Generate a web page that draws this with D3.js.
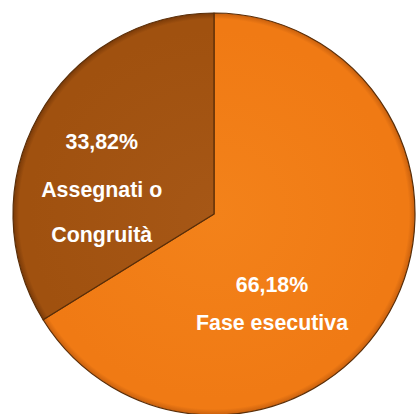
<!DOCTYPE html>
<html>
<head>
<meta charset="utf-8">
<script src="https://cdn.jsdelivr.net/npm/d3@7"></script>
<style>
  html, body { margin: 0; padding: 0; background: #fff; }
  svg { display: block; }
  .lbl { font-family: "Liberation Sans", Arial, sans-serif; font-weight: bold; fill: #fff; }
</style>
</head>
<body>
<div id="chart"></div>
<script>
// slice data, clockwise from 12 o'clock
const categories = ["Fase esecutiva", "Assegnati o Congruità"];
const values = [66.18, 33.82];
const percentLabels = ["66,18%", "33,82%"];
const nameLines = [["Fase esecutiva"], ["Assegnati o", "Congruità"]];

let width = 417, height = 414,
    cx = 214, cy = 214, radius = 201;

const svg = d3.select("#chart").append("svg")
    .attr("width", width)
    .attr("height", height);

const colors = [
    { base: "#f07a14", light: "#f3821a", dark: "#c8600e" },
    { base: "#a0510f", light: "#a65716", dark: "#7a3a08" }
];

// radial gradients for a bit of depth (group coords, centre at 0,0)
const defs = svg.append("defs");
colors.forEach((c, i) => {
    const gr = defs.append("radialGradient")
        .attr("id", "grad" + i)
        .attr("gradientUnits", "userSpaceOnUse")
        .attr("cx", 0).attr("cy", 0).attr("r", radius);
    gr.append("stop").attr("offset", "0%").attr("stop-color", c.light);
    gr.append("stop").attr("offset", "92%").attr("stop-color", c.base);
    gr.append("stop").attr("offset", "97%").attr("stop-color", c.base);
    gr.append("stop").attr("offset", "100%").attr("stop-color", c.dark);
});

const pie = d3.pie().sort(null).value(d => d);
const arcs = pie(values);

const arc = d3.arc().innerRadius(0).outerRadius(radius);

const g = svg.append("g")
    .attr("transform", "translate(" + cx + "," + cy + ")");

g.selectAll("path.slice")
    .data(arcs)
    .enter().append("path")
    .attr("class", "slice")
    .attr("d", arc)
    .attr("fill", (d, i) => "url(#grad" + i + ")")
    .attr("stroke", "#5a2e08")
    .attr("stroke-width", 1.2)
    .attr("stroke-linejoin", "round");

// label anchor: angle / radius per slice (label placement only)
const labelPos = [
    { angle: 148.5, r: 111 },
    { angle: 280, r: 114 }
];
// line baselines relative to anchor
const lineOffsets = [
    [-17, 21],
    [-45, 3, 48]
];

arcs.forEach((d, i) => {
    const a = labelPos[i].angle * Math.PI / 180;
    const lx = Math.sin(a) * labelPos[i].r;
    const ly = -Math.cos(a) * labelPos[i].r;
    const lines = [percentLabels[i]].concat(nameLines[i]);
    const t = g.append("g")
        .attr("transform", "translate(" + lx + "," + ly + ") scale(0.93,1)");
    lines.forEach((s, j) => {
        t.append("text")
            .attr("class", "lbl")
            .attr("text-anchor", "middle")
            .attr("x", 0)
            .attr("y", lineOffsets[i][j])
            .attr("font-size", 23)
            .text(s);
    });
});
</script>
</body>
</html>
